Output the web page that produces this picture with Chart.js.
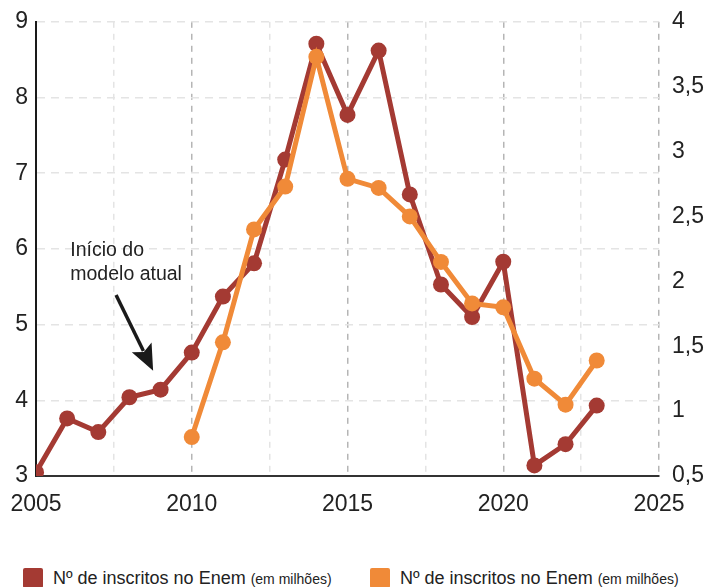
<!DOCTYPE html>
<html>
<head>
<meta charset="utf-8">
<script src="https://cdn.jsdelivr.net/npm/chart.js@4/dist/chart.umd.min.js"></script>
<style>
    body { margin: 0; background: #fff; font-family: "Liberation Sans", Arial, sans-serif; }
    #wrap { position: relative; width: 708px; height: 587px; overflow: hidden; }
    #chart { position: absolute; left: 0; top: -5px; }
    .leg { position: absolute; top: 568px; height: 20px; white-space: nowrap; color: #222; }
    .leg .box { position: absolute; left: 0; top: 0; width: 20px; height: 20px; border-radius: 2px; }
    .leg .txt { position: absolute; left: 30px; top: 0; font-size: 18px; line-height: 20px; }
    .leg small { font-size: 14px; }
</style>
</head>
<body>
<div id="wrap">
    <canvas id="chart" width="708" height="550"></canvas>
    <div class="leg" style="left:23px"><span class="box" style="background:#a43a33"></span><span class="txt">Nº de inscritos no Enem <small>(em milhões)</small></span></div>
    <div class="leg" style="left:370px"><span class="box" style="background:#f08a38"></span><span class="txt">Nº de inscritos no Enem <small>(em milhões)</small></span></div>
</div>
<script>
    "use strict";

    // Data
    var anosInscritos = [2005, 2006, 2007, 2008, 2009, 2010, 2011, 2012, 2013, 2014, 2015, 2016, 2017, 2018, 2019, 2020, 2021, 2022, 2023];
    var inscritos = [3.05, 3.76, 3.58, 4.04, 4.14, 4.63, 5.37, 5.81, 7.18, 8.71, 7.77, 8.62, 6.72, 5.53, 5.1, 5.83, 3.14, 3.42, 3.93];
    var anosLaranja = [2010, 2011, 2012, 2013, 2014, 2015, 2016, 2017, 2018, 2019, 2020, 2021, 2022, 2023];
    var laranja = [0.8, 1.53, 2.4, 2.73, 3.73, 2.79, 2.72, 2.5, 2.15, 1.83, 1.8, 1.25, 1.05, 1.39];
    var xTicks = [2005, 2010, 2015, 2020, 2025];
    var leftTicks = [3, 4, 5, 6, 7, 8, 9];
    var rightTicks = [0.5, 1, 1.5, 2, 2.5, 3, 3.5, 4];
    var nota = ["Início do", "modelo atual"];

    var VERMELHO = "#a43a33";
    var LARANJA = "#f08a38";
    var FONTE = "'Liberation Sans', Arial, sans-serif";

    function pares(xs, ys) {
        return xs.map(function (x, i) { return {x: x, y: ys[i]}; });
    }

    // annotation: text + arrow
    var notaPlugin = {
        id: "nota",
        afterDatasetsDraw: function (chart) {
            var ctx = chart.ctx;
            var sx = chart.scales.x, sy = chart.scales.y;
            var tx = sx.getPixelForValue(2006.1), ty = sy.getPixelForValue(5.9);
            ctx.save();
            ctx.fillStyle = "#222";
            ctx.font = "19.5px " + FONTE;
            ctx.textBaseline = "alphabetic";
            ctx.fillText(nota[0], tx, ty);
            ctx.fillText(nota[1], tx, ty + 24);

            var x1 = sx.getPixelForValue(2007.57), y1 = sy.getPixelForValue(5.39);
            var x2 = sx.getPixelForValue(2008.76), y2 = sy.getPixelForValue(4.39);
            var ang = Math.atan2(y2 - y1, x2 - x1);
            var hl = 26, hw = 11;
            var bx = x2 - hl * Math.cos(ang), by = y2 - hl * Math.sin(ang);
            ctx.strokeStyle = "#1a1a1a";
            ctx.lineWidth = 3.5;
            ctx.beginPath();
            ctx.moveTo(x1, y1);
            ctx.lineTo(bx + 4 * Math.cos(ang), by + 4 * Math.sin(ang));
            ctx.stroke();
            ctx.fillStyle = "#1a1a1a";
            ctx.beginPath();
            ctx.moveTo(x2, y2);
            ctx.lineTo(bx - hw * Math.sin(ang), by + hw * Math.cos(ang));
            ctx.lineTo(bx + 5 * Math.cos(ang), by + 5 * Math.sin(ang));
            ctx.lineTo(bx + hw * Math.sin(ang), by - hw * Math.cos(ang));
            ctx.closePath();
            ctx.fill();
            ctx.restore();
        }
    };

    var ctx = document.getElementById("chart").getContext("2d");
    var myChart = new Chart(ctx, {
        type: "line",
        data: {
            datasets: [{
                data: pares(anosInscritos, inscritos),
                yAxisID: "y",
                borderColor: VERMELHO,
                backgroundColor: VERMELHO,
                borderWidth: 5,
                pointRadius: 8,
                pointBorderWidth: 0,
                order: 2
            }, {
                data: pares(anosLaranja, laranja),
                yAxisID: "y1",
                borderColor: LARANJA,
                backgroundColor: LARANJA,
                borderWidth: 5,
                pointRadius: 8,
                pointBorderWidth: 0,
                order: 1
            }]
        },
        options: {
            responsive: false,
            animation: false,
            layout: {padding: 0},
            plugins: {legend: {display: false}, tooltip: {enabled: false}},
            scales: {
                x: {
                    type: "linear",
                    min: 2005,
                    max: 2025,
                    afterBuildTicks: function (s) {
                        var t = [];
                        for (var v = 2005; v <= 2025; v += 2.5) t.push({value: v});
                        s.ticks = t;
                    },
                    afterFit: function (s) { s.height = 550 - 481; },
                    ticks: {
                        autoSkip: false,
                        maxRotation: 0,
                        padding: 9,
                        color: "#222",
                        font: {family: FONTE, size: 23, lineHeight: 1.75},
                        callback: function (v) { return xTicks.indexOf(v) >= 0 ? String(v) : ""; }
                    },
                    grid: {
                        drawTicks: false,
                        lineWidth: 1.5,
                        color: function (c) { return c.tick && c.tick.value % 5 === 0 ? "#b5b5b5" : "#e4e4e4"; }
                    },
                    border: {display: true, color: "#333", width: 2, dash: [6, 6]}
                },
                y: {
                    position: "left",
                    min: 3,
                    max: 9,
                    afterBuildTicks: function (s) { s.ticks = leftTicks.map(function (v) { return {value: v}; }); },
                    afterFit: function (s) { s.width = 36; },
                    ticks: {padding: 8, color: "#222", font: {family: FONTE, size: 23}},
                    grid: {drawTicks: false, lineWidth: 1.5, color: "#e4e4e4"},
                    border: {display: true, color: "#1a1a1a", width: 2, dash: [8, 6]}
                },
                y1: {
                    position: "right",
                    min: 0.5,
                    max: 4,
                    afterBuildTicks: function (s) { s.ticks = rightTicks.map(function (v) { return {value: v}; }); },
                    afterFit: function (s) { s.width = 708 - 659; },
                    ticks: {
                        padding: 13,
                        color: "#222",
                        font: {family: FONTE, size: 23},
                        callback: function (v) { return String(v).replace(".", ","); }
                    },
                    grid: {display: false, drawOnChartArea: false, drawTicks: false},
                    border: {display: false}
                }
            }
        },
        plugins: [notaPlugin]
    });
</script>
</body>
</html>
